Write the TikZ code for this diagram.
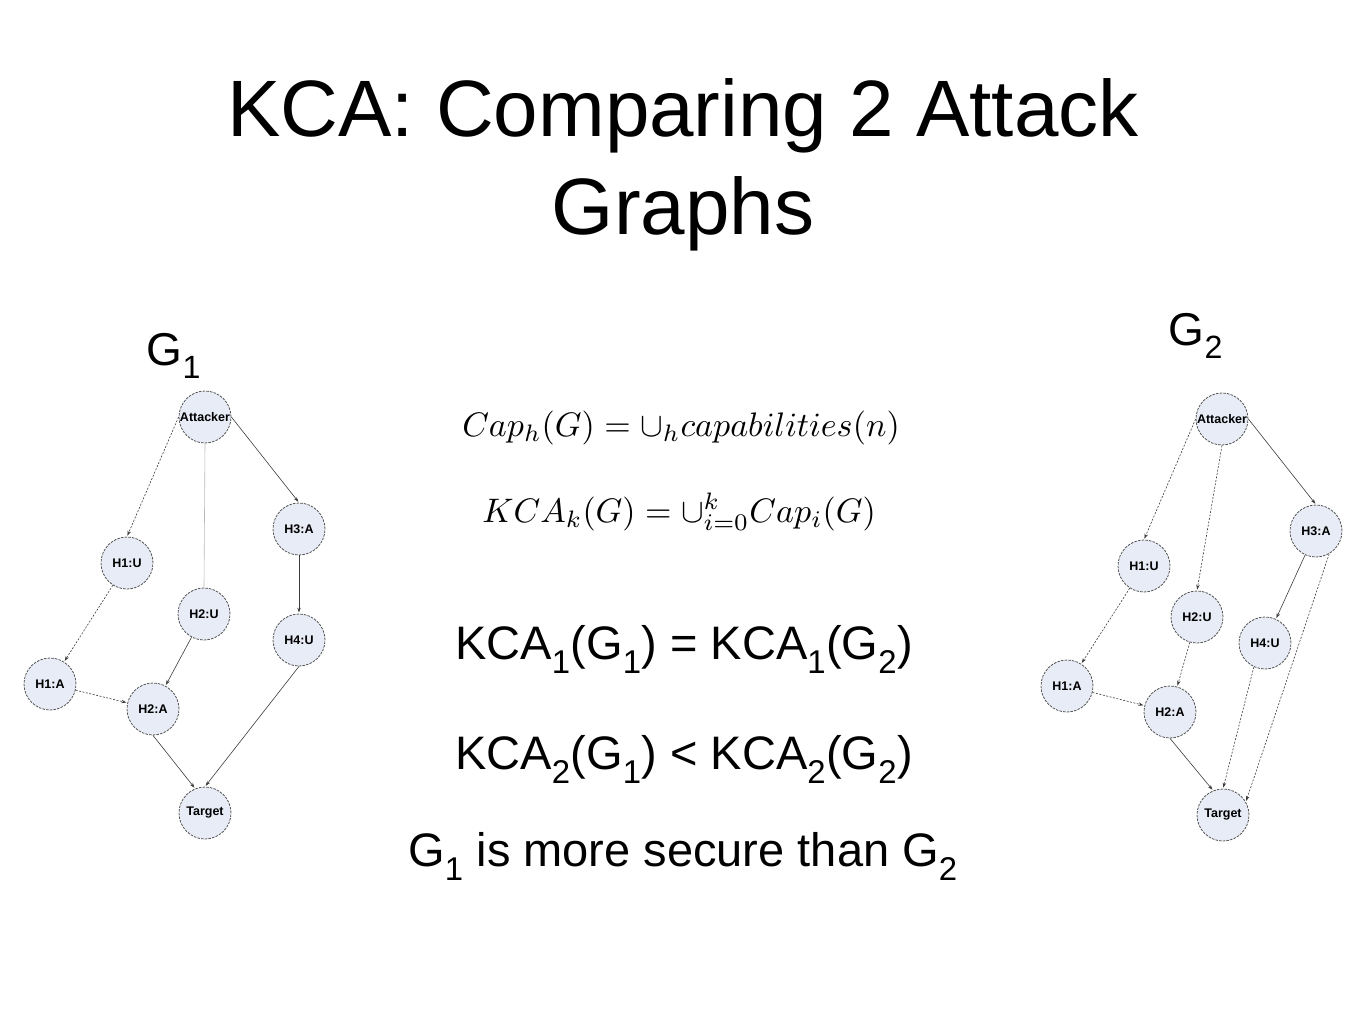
\documentclass[tikz,border=0pt]{standalone}
\usepackage[no-math]{fontspec}
\setmainfont{Liberation Sans}
\usepackage{amsmath,amssymb}
\usepackage{graphicx}
\usepackage{xcolor}
\usepackage{tikz}
\usetikzlibrary{arrows.meta,positioning,calc}

\definecolor{nodefill}{HTML}{E8ECF6}
\definecolor{nodeline}{HTML}{555555}
\definecolor{edgeline}{HTML}{3C3C3C}
\newcommand{\bigeq}[1]{\scalebox{3.4}{\fontsize{10}{12}\selectfont$#1$}}

\begin{document}
\begin{tikzpicture}[x=1pt, y=-1pt,
    host/.style={circle, draw=nodeline, fill=nodefill, dash pattern=on 2.5pt off 1.2pt,
        line width=0.8pt, minimum size=52pt, inner sep=0pt,
        font=\fontsize{12.5}{14}\selectfont\bfseries},
    edge/.style={-{Stealth[length=5pt,width=3.5pt]}, draw=edgeline, line width=0.6pt, shorten >=1pt},
    dedge/.style={edge, dash pattern=on 2pt off 1.5pt},
    bigtext/.style={font=\fontsize{47}{56}\selectfont, anchor=base, inner sep=0pt},
    eqn/.style={anchor=base, inner sep=0pt}]
    \useasboundingbox (0,0) rectangle (1365,1024);

    % Title
    \node[font=\fontsize{80}{98}\selectfont, align=center, inner sep=0pt] (title) at (683,165)
        {KCA: Comparing 2 Attack\\Graphs};

    % Graph labels
    \node[font=\fontsize{46}{54}\selectfont, anchor=base, inner sep=0pt] (g1lbl) at (174,365) {G\textsubscript{1}};
    \node[font=\fontsize{46}{54}\selectfont, anchor=base, inner sep=0pt] (g2lbl) at (1196,345) {G\textsubscript{2}};

    % G1
    \node[host] (att1) at (205,417) {Attacker};
    \node[host] (h1u1) at (127,563) {H1:U};
    \node[host] (h2u1) at (204,614) {H2:U};
    \node[host] (h3a1) at (299,529) {H3:A};
    \node[host] (h4u1) at (299,640) {H4:U};
    \node[host] (h1a1) at (50,684) {H1:A};
    \node[host] (h2a1) at (153,709) {H2:A};
    \node[host] (tgt1) at (205,813) {Target};

    \draw[dedge] (att1.west) -- (h1u1.north);
    \draw[draw=gray!55, line width=0.6pt] (att1.south) -- (h2u1.north);
    \draw[edge] (att1.east) -- (h3a1.north);
    \draw[edge, line width=0.9pt] (h3a1) -- (h4u1);
    \draw[dedge] (h1u1) -- (h1a1);
    \draw[edge] (h2u1) -- (h2a1);
    \draw[dedge] (h1a1) -- (h2a1);
    \draw[edge] (h2a1.south) -- (tgt1.112);
    \draw[edge] (h4u1.south) -- (tgt1.north);

    % G2
    \node[host] (att2) at (1222,419) {Attacker};
    \node[host] (h1u2) at (1144,566) {H1:U};
    \node[host] (h2u2) at (1197,617) {H2:U};
    \node[host] (h3a2) at (1316,531) {H3:A};
    \node[host] (h4u2) at (1265,643) {H4:U};
    \node[host] (h1a2) at (1067,686) {H1:A};
    \node[host] (h2a2) at (1170,712) {H2:A};
    \node[host] (tgt2) at (1223,815) {Target};

    \draw[dedge] (att2.west) -- (h1u2.north);
    \draw[dedge] (att2.south) -- (h2u2.north);
    \draw[edge] (att2.east) -- (h3a2.north);
    \draw[edge] (h3a2) -- (h4u2);
    \draw[dedge] (h3a2.-60) -- (tgt2.30);
    \draw[dedge] (h1u2) -- (h1a2);
    \draw[dedge] (h1a2) -- (h2a2);
    \draw[dedge] (h2u2) -- (h2a2);
    \draw[edge] (h2a2.south) -- (tgt2.112);
    \draw[dedge] (h4u2.-115) -- (tgt2.north);

    % Formulas
    \node[eqn] (caph) at (681,436) {\bigeq{Cap_h(G) = \cup_h capabilities(n)}};
    \node[eqn] (kcak) at (679,522) {\bigeq{KCA_k(G) = \cup_{i=0}^k Cap_i(G)}};

    % Comparison
    \node[bigtext] (cmp1) at (684,659) {KCA\textsubscript{1}(G\textsubscript{1}) = KCA\textsubscript{1}(G\textsubscript{2})};
    \node[bigtext] (cmp2) at (684,769) {KCA\textsubscript{2}(G\textsubscript{1}) < KCA\textsubscript{2}(G\textsubscript{2})};
    \node[bigtext] (concl) at (683,866) {G\textsubscript{1} is more secure than G\textsubscript{2}};
\end{tikzpicture}
\end{document}
